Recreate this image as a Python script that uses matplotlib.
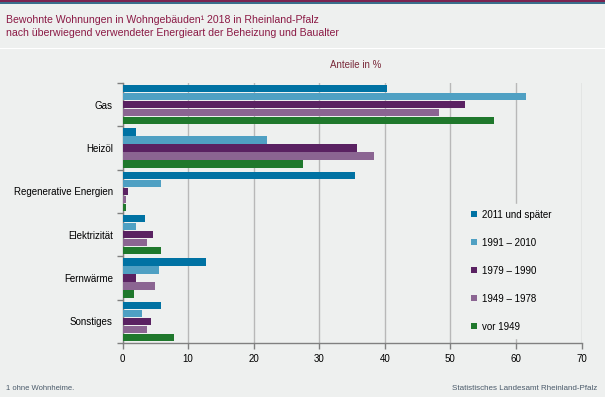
import numpy as np
import matplotlib
matplotlib.use("Agg")
import matplotlib.pyplot as plt
from matplotlib.patches import Rectangle

plt.rcParams['font.family'] = ['Liberation Sans', 'DejaVu Sans']

categories = ["Gas", "Heizöl", "Regenerative Energien", "Elektrizität", "Fernwärme", "Sonstiges"]
series = ["2011 und später", "1991 – 2010", "1979 – 1990", "1949 – 1978", "vor 1949"]
v_2011 = [40.3, 2.0, 35.4, 3.5, 12.7, 5.9]
v_1991 = [61.6, 22.0, 5.9, 2.0, 5.5, 2.9]
v_1979 = [52.3, 35.7, 0.9, 4.6, 2.0, 4.4]
v_1949 = [48.3, 38.4, 0.6, 3.8, 5.0, 3.7]
v_vor = [56.6, 27.5, 0.6, 5.9, 1.7, 7.8]
values = [v_2011, v_1991, v_1979, v_1949, v_vor]
colors = ["#0072a3", "#4fa0c3", "#5a2262", "#8b6592", "#1f782c"]

bg = "#eef0ef"
title_col = "#8b1a45"
grid_col = "#b8b8b8"

fig = plt.figure(figsize=(6.05, 3.97), dpi=100, facecolor=bg)

# header decoration
fig.add_artist(Rectangle((0, 1 - 2 / 397), 1, 2 / 397, transform=fig.transFigure,
                         color="#7b2350", lw=0))
fig.add_artist(Rectangle((0, 1 - 4 / 397), 1, 2 / 397, transform=fig.transFigure,
                         color="#3a6f8c", lw=0))
fig.add_artist(Rectangle((0, 1 - 49 / 397), 1, 1.2 / 397, transform=fig.transFigure,
                         color="white", lw=0))

fig.text(6 / 605, 1 - 20 / 397, "Bewohnte Wohnungen in Wohngebäuden¹ 2018 in Rheinland-Pfalz",
         color=title_col, fontsize=7.6, va="center", ha="left")
fig.text(6 / 605, 1 - 33 / 397, "nach überwiegend verwendeter Energieart der Beheizung und Baualter",
         color=title_col, fontsize=7.6, va="center", ha="left")

ax = fig.add_axes([122.5 / 605, 1 - 343 / 397, 459 / 605, 260 / 397])
ax.set_facecolor(bg)

n = len(series)
pitch = 0.185
h = 0.17
y = np.arange(len(categories))
for i, (vals, c, lab) in enumerate(zip(values, colors, series)):
    off = (i - (n - 1) / 2) * pitch
    ax.barh(y + off, vals, height=h, color=c, label=lab, zorder=3)

ax.set_xlim(0, 70)
ax.set_ylim(len(categories) - 0.5, -0.5)
ax.set_xticks(np.arange(0, 71, 10))
ax.xaxis.grid(True, color=grid_col, lw=1, zorder=0)
ax.set_yticks(y)
ax.set_yticklabels(categories, fontsize=7)
ax.set_yticks(np.arange(-0.5, len(categories), 1), minor=True)
ax.tick_params(axis="y", which="major", length=0, pad=7)
ax.tick_params(axis="y", which="minor", length=4, color="#808080", width=1)
ax.tick_params(axis="x", length=4, color="#808080", width=1, labelsize=7, pad=4)

for s in ["top", "right"]:
    ax.spines[s].set_visible(False)
for s in ["left", "bottom"]:
    ax.spines[s].set_color("#808080")
    ax.spines[s].set_linewidth(1)

fig.text(330 / 605, 1 - 65 / 397, "Anteile in %", ha="left", va="center",
         fontsize=7, color="#7a2a3a")

leg = ax.legend(loc="upper left", bbox_to_anchor=(465 / 605, 1 - 204 / 397),
                bbox_transform=fig.transFigure, frameon=True, fontsize=7,
                handlelength=0.6, handleheight=0.6, handletextpad=0.5,
                labelspacing=1.85, borderpad=0.6, borderaxespad=0)
leg.get_frame().set_facecolor(bg)
leg.get_frame().set_edgecolor(bg)
leg.get_frame().set_alpha(1)
leg.get_frame().set_boxstyle("square", pad=0)
leg.set_zorder(5)

fig.text(6 / 605, 1 - 388 / 397, "1 ohne Wohnheime.", fontsize=5.5, color="#4a5a6a",
         ha="left", va="center")
fig.text(597 / 605, 1 - 388 / 397, "Statistisches Landesamt Rheinland-Pfalz", fontsize=5.8,
         color="#4a5a6a", ha="right", va="center")

fig.savefig("out.png", dpi=100, facecolor=bg)
